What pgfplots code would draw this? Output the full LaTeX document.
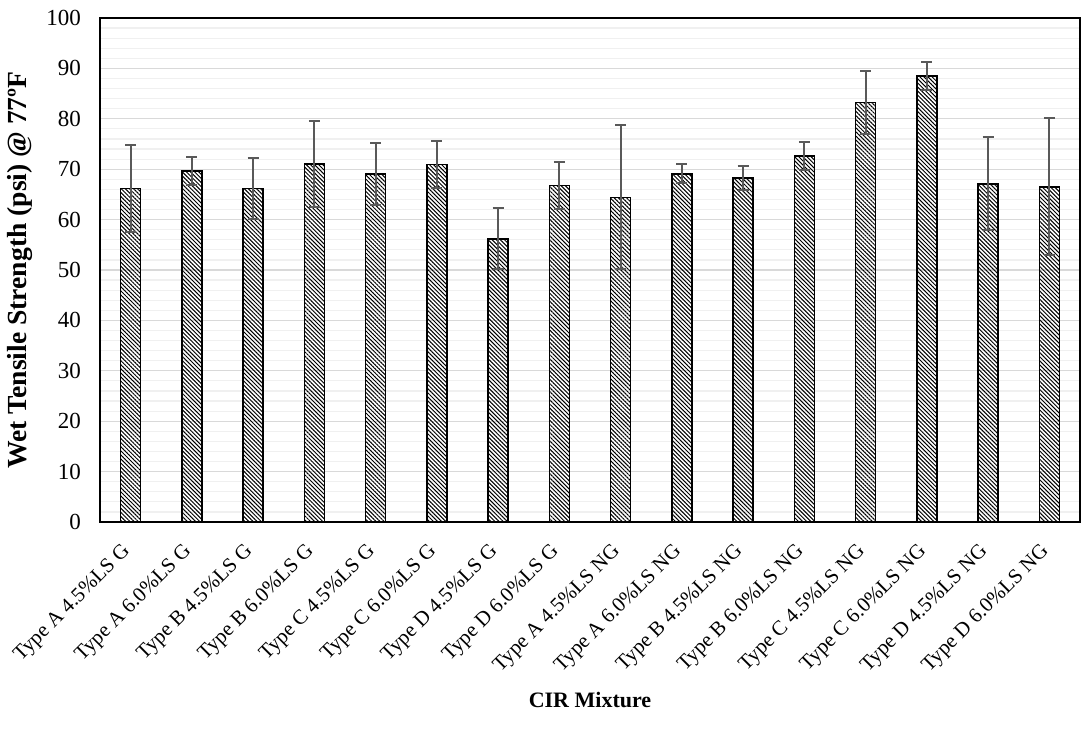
\documentclass[border=0pt]{standalone}
\usepackage{fontspec}
\setmainfont{Liberation Serif}
\usepackage{pgfplots}
\pgfplotsset{compat=1.18}
\usepackage{pgfplotstable}
\usetikzlibrary{patterns.meta}

\definecolor{majgrid}{HTML}{D9D9D9}
\definecolor{mingrid}{HTML}{F0F0F0}
\definecolor{errgray}{HTML}{595959}

% wet tensile strength, mean and half error bar
\pgfplotstableread{
x y e
0 66.2 8.6
1 69.6 2.8
2 66.2 6.0
3 71.0 8.6
4 69.0 6.2
5 70.9 4.7
6 56.2 6.1
7 66.8 4.6
8 64.4 14.3
9 69.1 1.9
10 68.3 2.4
11 72.6 2.7
12 83.2 6.2
13 88.5 2.7
14 67.1 9.2
15 66.5 13.6
}\wtsdata

\begin{document}
\begin{tikzpicture}
\begin{axis}[
    scale only axis,
    width=490pt, height=252pt,
    xmin=-0.5, xmax=15.5,
    ymin=0, ymax=100,
    ytick={0,10,...,100},
    minor y tick num=4,
    xtick={0,...,15},
    xticklabels={Type A 4.5\%LS G, Type A 6.0\%LS G, Type B 4.5\%LS G, Type B 6.0\%LS G,
                 Type C 4.5\%LS G, Type C 6.0\%LS G, Type D 4.5\%LS G, Type D 6.0\%LS G,
                 Type A 4.5\%LS NG, Type A 6.0\%LS NG, Type B 4.5\%LS NG, Type B 6.0\%LS NG,
                 Type C 4.5\%LS NG, Type C 6.0\%LS NG, Type D 4.5\%LS NG, Type D 6.0\%LS NG},
    major tick length=0pt, minor tick length=0pt,
    ymajorgrids, yminorgrids,
    major grid style={majgrid, line width=0.6pt},
    minor grid style={mingrid, line width=0.6pt},
    axis line style={black, line width=0.8pt},
    /pgf/number format/assume math mode=true,
    yticklabel style={font=\fontsize{11.5}{13}\selectfont, xshift=-6pt},
    xticklabel style={font=\fontsize{10.4}{12}\selectfont, xshift=-5pt, yshift=-8.5pt,
                      rotate=45, anchor=north east, inner sep=1pt},
    ylabel={\bfseries Wet Tensile Strength (psi) @ 77ºF},
    ylabel style={font=\fontsize{13.8}{15}\selectfont, at={(axis description cs:-0.0816,0.5)}, anchor=center},
    xlabel={\bfseries CIR Mixture},
    xlabel style={font=\fontsize{11}{13}\selectfont, at={(axis description cs:0.5,0)}, anchor=center, yshift=-89pt},
]
\addplot[
    ybar, bar width=10pt, draw=black, line width=0.8pt,
    pattern={Lines[angle=-45, distance=1.45pt, line width=0.5pt]},
    error bars/.cd, y dir=both, y explicit,
    error bar style={errgray, line width=1pt},
    error mark options={rotate=90, mark size=2.75pt, errgray, line width=1pt},
] table[x=x, y=y, y error=e] {\wtsdata};
\end{axis}
\path ([xshift=-50pt, yshift=-107pt]current axis.south west) rectangle ([xshift=0.5pt, yshift=9pt]current axis.north east);
\end{tikzpicture}
\end{document}
